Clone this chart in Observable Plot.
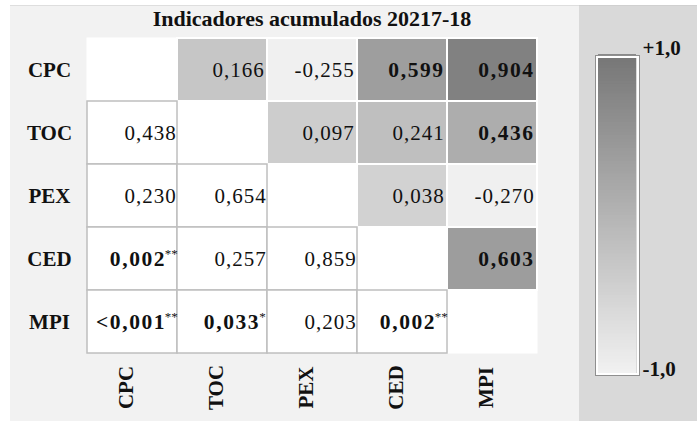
<!DOCTYPE html>
<html>
<head>
<meta charset="utf-8">
<script src="https://cdn.jsdelivr.net/npm/d3@7"></script>
<script src="https://cdn.jsdelivr.net/npm/@observablehq/plot@0.6"></script>
<style>
  html, body { margin: 0; padding: 0; background: #ffffff; }
  #wrap { position: relative; width: 697px; height: 421px; overflow: hidden; font-family: "Liberation Serif", "Times New Roman", "DejaVu Serif", serif; }
  #leftPanel { position: absolute; left: 10px; top: 5px; width: 569px; height: 416px; background: #f2f2f2; border-top: 1px solid #dedede; box-sizing: border-box; }
  #rightPanel { position: absolute; left: 579px; top: 5px; width: 118px; height: 416px; background: #d9d9d9; border-top: 1px solid #d0d0d0; box-sizing: border-box; }
  #title { position: absolute; left: 66px; top: 6px; width: 492px; text-align: center; font-weight: bold; font-size: 22px; line-height: 26px; color: #111; white-space: nowrap; }
  #main { position: absolute; left: 0; top: 0; }
  #legend { position: absolute; left: 579px; top: 0; }
  g[font-variant="tabular-nums"] text { letter-spacing: 1px; }
  g[font-variant="tabular-nums"][font-weight="bold"] text { letter-spacing: 1.6px; }
</style>
</head>
<body>
<div id="wrap">
  <div id="leftPanel"></div>
  <div id="rightPanel"></div>
  <div id="main"></div>
  <div id="legend"></div>
  <div id="title">Indicadores acumulados 20217-18</div>
</div>
<script>
// ---- data ----
const variables = ["CPC", "TOC", "PEX", "CED", "MPI"];

// upper triangle: correlation coefficients
const corrRow   = ["CPC", "CPC", "CPC", "CPC", "TOC", "TOC", "TOC", "PEX", "PEX", "CED"];
const corrCol   = ["TOC", "PEX", "CED", "MPI", "PEX", "CED", "MPI", "CED", "MPI", "MPI"];
const corrValue = [0.166, -0.255, 0.599, 0.904, 0.097, 0.241, 0.436, 0.038, -0.270, 0.603];
const corrBold  = [false, false, true, true, false, false, true, false, false, true];

// lower triangle: p-values
const pRow   = ["TOC", "PEX", "PEX", "CED", "CED", "CED", "MPI", "MPI", "MPI", "MPI"];
const pCol   = ["CPC", "CPC", "TOC", "CPC", "TOC", "PEX", "CPC", "TOC", "PEX", "CED"];
const pLabel = ["0,438", "0,230", "0,654", "0,002", "0,257", "0,859", "<0,001", "0,033", "0,203", "0,002"];
const pStars = ["", "", "", "**", "", "", "**", "*", "", "**"];

// legend labels
const legendValues = [1, -1];
const legendLabels = ["+1,0", "-1,0"];

// ---- build tables ----
const upper = corrValue.map((r, i) => ({row: corrRow[i], col: corrCol[i], r, bold: corrBold[i]}));
const lower = pLabel.map((p, i) => ({row: pRow[i], col: pCol[i], p, stars: pStars[i]}));
const diag = variables.map(v => ({row: v, col: v}));

const locale = d3.formatLocale({decimal: ",", thousands: ".", grouping: [3], currency: ["", ""], minus: "-"});
const fmt = locale.format(".3f");

const font = '"Liberation Serif", "Times New Roman", "DejaVu Serif", serif';
const half = 45.2;
const fs = 21;
const fsb = 21.5;
const num = {fontVariant: "tabular-nums", fill: "#111", textAnchor: "end"};

const main = Plot.plot({
  width: 579,
  height: 421,
  marginLeft: 86,
  marginRight: 41,
  marginTop: 37,
  marginBottom: 68,
  style: {background: "transparent", fontFamily: font, fontSize: fs + "px", color: "#111"},
  x: {type: "band", domain: variables, padding: 0, axis: null},
  y: {type: "band", domain: variables, padding: 0, axis: null},
  color: {type: "linear", domain: [-1, -0.25, 0, 1], range: ["#f3f3f3", "#f0f0f0", "#d6d6d6", "#787878"]},
  marks: [
    Plot.cell(diag, {x: "col", y: "row", fill: "white", stroke: "white", strokeWidth: 1}),
    Plot.cell(upper, {x: "col", y: "row", fill: "r", stroke: "white", strokeWidth: 2}),
    Plot.cell(lower, {x: "col", y: "row", fill: "white", stroke: "#bfbfbf", strokeWidth: 1.5}),
    // correlation labels
    Plot.text(upper, {...num, filter: d => !d.bold, x: "col", y: "row", text: d => fmt(d.r), dx: half - 3, fontSize: fs}),
    Plot.text(upper, {...num, filter: d => d.bold, x: "col", y: "row", text: d => fmt(d.r), dx: half - 3, fontSize: fsb, fontWeight: "bold"}),
    // p-value labels
    Plot.text(lower, {...num, filter: d => d.stars === "", x: "col", y: "row", text: "p", dx: half - 1, fontSize: fs}),
    Plot.text(lower, {...num, filter: d => d.stars === "**", x: "col", y: "row", text: "p", dx: half - 11.5, fontSize: fsb, fontWeight: "bold"}),
    Plot.text(lower, {filter: d => d.stars === "**", x: "col", y: "row", text: "stars", textAnchor: "end", dx: half, dy: -5, fill: "#111", fontSize: 13}),
    Plot.text(lower, {...num, filter: d => d.stars === "*", x: "col", y: "row", text: "p", dx: half - 7.5, fontSize: fsb, fontWeight: "bold"}),
    Plot.text(lower, {filter: d => d.stars === "*", x: "col", y: "row", text: "stars", textAnchor: "end", dx: half - 2, dy: -5, fill: "#111", fontSize: 13}),
    // row labels
    Plot.text(variables, {y: d => d, frameAnchor: "left", dx: -37, textAnchor: "middle", text: d => d, fontWeight: "bold", fontSize: fs, fill: "#111"}),
    // column labels (rotated)
    Plot.text(variables, {x: d => d, frameAnchor: "bottom", dy: 34, rotate: -90, textAnchor: "middle", text: d => d, fontWeight: "bold", fontSize: fs, fill: "#111"})
  ]
});
document.getElementById("main").appendChild(main);

// ---- legend ----
const step = 0.02;
const ramp = d3.range(-1, 1 - 1e-9, step);
const legend = Plot.plot({
  width: 118,
  height: 421,
  marginLeft: 16,
  marginRight: 58,
  marginTop: 55,
  marginBottom: 46,
  style: {background: "transparent", fontFamily: font, color: "#111"},
  x: {domain: [0, 1], axis: null},
  y: {domain: [-1, 1], axis: null},
  color: {type: "linear", domain: [-1, 1], range: ["#f2f2f2", "#767676"]},
  marks: [
    Plot.rect(ramp, {x1: 0, x2: 1, y1: d => d, y2: d => d + step + 0.005, fill: d => d + step / 2, insetLeft: 3, insetRight: 3}),
    Plot.frame({stroke: "white", strokeWidth: 2, inset: 1.5}),
    Plot.frame({stroke: "#8f8f8f", strokeWidth: 1}),
    Plot.text(legendValues, {filter: d => d > 0, x: 1, y: d => d, text: () => legendLabels[0], textAnchor: "start", dx: 3, dy: -7, fontWeight: "bold", fontSize: fs, fill: "#111"}),
    Plot.text(legendValues, {filter: d => d < 0, x: 1, y: d => d, text: () => legendLabels[1], textAnchor: "start", dx: 3, dy: -6, fontWeight: "bold", fontSize: fs, fill: "#111"})
  ]
});
document.getElementById("legend").appendChild(legend);
</script>
</body>
</html>
